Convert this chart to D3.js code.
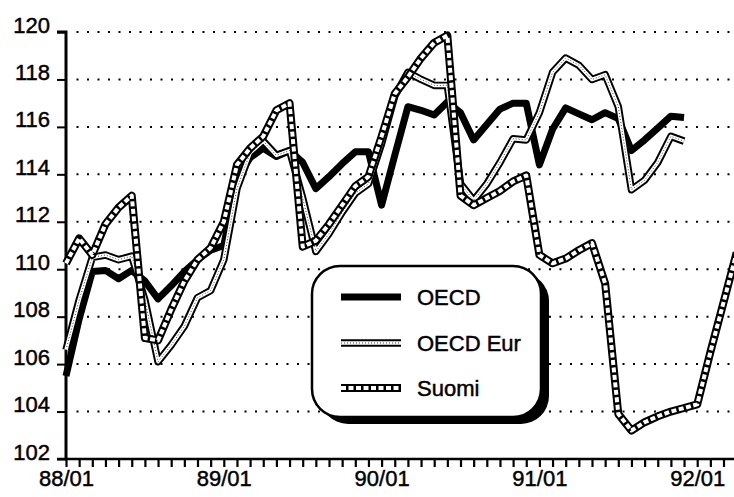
<!DOCTYPE html>
<html>
<head>
<meta charset="utf-8">
<script src="https://cdn.jsdelivr.net/npm/d3@7"></script>
<style>
  html, body { margin: 0; padding: 0; background: #fff; }
  svg { display: block; }
  text { font-family: "Liberation Sans", Arial, Helvetica, sans-serif; fill: #000; stroke: #000; stroke-width: 0.45px; }
</style>
</head>
<body>
<svg id="chart" width="734" height="497"></svg>
<script>
// ---- data (monthly index 0 = 88/01) ----
const seriesNames = ["OECD", "OECD Eur", "Suomi"];
const oecd = [105.5, 107.9, 109.9, 109.95, 109.6, 109.95, 109.5, 108.75, 109.3, 109.9, 110.4, 110.8,
              111.0, 113.8, 114.7, 115.1, 114.75, 115.0, 114.5, 113.4, 113.9, 114.45, 114.95, 114.95,
              112.7, 114.8, 116.85, 116.7, 116.5, 117.05, 116.6, 115.45, 116.1, 116.75, 117.0, 117.0,
              114.4, 115.9, 116.8, 116.55, 116.3, 116.6, 116.35, 115.0, 115.45, 115.95, 116.45, 116.4];
const oecdEur = [106.6, 108.7, 110.5, 110.6, 110.4, 110.55, 108.7, 106.1, 106.8, 107.6, 108.8, 109.1,
                 110.4, 113.4, 114.9, 115.4, 114.8, 115.0, 113.0, 110.75, 111.5, 112.4, 113.2, 113.6,
                 115.3, 117.3, 118.3, 118.0, 117.75, 117.75, 113.6, 112.9, 113.6, 114.5, 115.5, 115.45,
                 116.6, 118.3, 118.9, 118.6, 118.0, 118.2, 116.85, 113.35, 113.75, 114.5, 115.6, 115.4];
const suomi = [110.25, 111.3, 110.6, 111.9, 112.6, 113.1, 107.1, 107.0, 108.3, 109.5, 110.4, 110.9,
               112.0, 114.4, 115.1, 115.6, 116.7, 117.0, 110.95, 111.2, 111.9, 112.7, 113.5, 113.9,
               115.6, 117.4, 118.1, 118.9, 119.55, 119.85, 113.1, 112.7, 113.0, 113.3, 113.7, 113.95,
               110.6, 110.25, 110.45, 110.8, 111.1, 109.4, 103.9, 103.2, 103.55, 103.8, 104.0, 104.15,
               104.3, 106.5, 108.6, 110.7];
const yTicks = [102, 104, 106, 108, 110, 112, 114, 116, 118, 120];
const xLabelMonths = [0, 12, 24, 36, 48];
const xLabels = ["88/01", "89/01", "90/01", "91/01", "92/01"];

// ---- scales ----
const svg = d3.select("#chart");
const W = 734;
const x = d3.scaleLinear().domain([0, 48]).range([66, 697.2]);
const y = d3.scaleLinear().domain([102, 120]).range([459, 32]);

// ---- gridlines ----
svg.append("g").selectAll("line")
  .data(yTicks.filter(v => v > 102))
  .join("line")
  .attr("x1", 76.5).attr("x2", W)
  .attr("y1", d => y(d)).attr("y2", d => y(d))
  .attr("stroke", "#000").attr("stroke-width", 2)
  .attr("stroke-dasharray", "2,8.5");

// ---- axes ----
const yAxis = d3.axisLeft(y).tickValues(yTicks).tickSize(9).tickPadding(7).tickFormat(d3.format("d"));
const gy = svg.append("g").attr("transform", `translate(${x(0)},0)`).call(yAxis);
gy.select(".domain").attr("stroke-width", 3).attr("d", `M-9,${y(120)}H0V${y(102)}`);
gy.selectAll(".tick line").attr("stroke-width", 2);
gy.selectAll(".tick text").attr("dy", "0").attr("y", 0)
  .style("font-size", "22px").style("font-family", "Liberation Sans, Arial, sans-serif");

const months = d3.range(0, 51);
const xAxis = d3.axisBottom(x).tickValues(months).tickSize(8)
  .tickFormat(d => { const k = xLabelMonths.indexOf(d); return k >= 0 ? xLabels[k] : ""; });
const gx = svg.append("g").attr("transform", `translate(0,${y(102)})`).call(xAxis);
gx.select(".domain").attr("stroke-width", 2.5).attr("d", `M${x(0) - 9},0H${W}`);
gx.selectAll(".tick line").attr("stroke-width", 2.2);
gx.selectAll(".tick text").attr("y", 27).attr("dy", "0")
  .style("font-size", "22px").style("font-family", "Liberation Sans, Arial, sans-serif");

// ---- lines ----
const line = d3.line().x((d, i) => x(i)).y(d => y(d)).curve(d3.curveLinear);
const gl = svg.append("g");

function drawOecd(g, path) {
  g.append("path").attr("d", path).attr("fill", "none").attr("stroke", "#000")
    .attr("stroke-width", 7).attr("stroke-linejoin", "round").attr("stroke-linecap", "butt");
}
function drawEur(g, path) {
  g.append("path").attr("d", path).attr("fill", "none").attr("stroke", "#000")
    .attr("stroke-width", 7.5).attr("stroke-linejoin", "round");
  g.append("path").attr("d", path).attr("fill", "none").attr("stroke", "#fff")
    .attr("stroke-width", 3.6).attr("stroke-linejoin", "round");
  g.append("path").attr("d", path).attr("fill", "none").attr("stroke", "#444")
    .attr("stroke-width", 1).attr("stroke-dasharray", "1,2");
}
function drawSuomi(g, path) {
  g.append("path").attr("d", path).attr("fill", "none").attr("stroke", "#000")
    .attr("stroke-width", 8).attr("stroke-linejoin", "round");
  g.append("path").attr("d", path).attr("fill", "none").attr("stroke", "#fff")
    .attr("stroke-width", 4).attr("stroke-linejoin", "round")
    .attr("stroke-dasharray", "5,2.5");
}

drawOecd(gl, line(oecd));
drawEur(gl, line(oecdEur));
drawSuomi(gl, line(suomi));

// ---- legend ----
const lg = svg.append("g");
const bx = 312, by = 266, bw = 229, bh = 151, r = 28;
lg.append("rect").attr("x", bx + 8).attr("y", by + 7).attr("width", bw).attr("height", bh)
  .attr("rx", r).attr("fill", "#000");
lg.append("rect").attr("x", bx).attr("y", by).attr("width", bw).attr("height", bh)
  .attr("rx", r).attr("fill", "#fff").attr("stroke", "#000").attr("stroke-width", 2.5);

const legendY = [297, 343, 388];
const drawers = [drawOecd, drawEur, drawSuomi];
seriesNames.forEach((name, k) => {
  const ly = legendY[k];
  drawers[k](lg, `M341,${ly}H401`);
  lg.append("text").attr("x", 417).attr("y", ly + 8)
    .style("font-size", "22px").text(name);
});
</script>
</body>
</html>
